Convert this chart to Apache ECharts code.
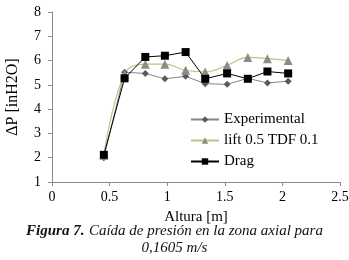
<!DOCTYPE html>
<html>
<head>
<meta charset="utf-8">
<script src="https://cdn.jsdelivr.net/npm/echarts@6/dist/echarts.min.js"></script>
<style>
  html, body { margin: 0; padding: 0; background: #fff; }
  #chart { width: 349px; height: 260px; }
</style>
</head>
<body>
<div id="chart"></div>
<script>
// heights along the axial zone [m]
const altura = [0.45, 0.63, 0.81, 0.98, 1.16, 1.33, 1.52, 1.70, 1.87, 2.05]
// pressure drop [inH2O]
const experimental = [2.0, 5.52, 5.47, 5.25, 5.35, 5.05, 5.02, 5.27, 5.08, 5.15]
const lift = [2.1, 5.45, 5.85, 5.85, 5.6, 5.53, 5.8, 6.13, 6.08, 6.0]
const drag = [2.12, 5.27, 6.15, 6.2, 6.35, 5.25, 5.47, 5.25, 5.55, 5.47]

const serif = 'Liberation Serif'

const pairs = ys => altura.map((x, i) => [x, ys[i]])

const chart = echarts.init(document.getElementById('chart'))
chart.setOption({
  animation: false,
  textStyle: { fontFamily: serif, color: '#000' },
  title: {
    text: '{b|Figura 7.} {i|Caída de presión en la zona axial para}\n{i|0,1605 m/s}',
    left: 'center',
    top: 217,
    textStyle: {
      fontWeight: 'normal',
      rich: {
        b: { fontFamily: serif, fontSize: 15, fontWeight: 'bold', fontStyle: 'italic', color: '#111', lineHeight: 17 },
        i: { fontFamily: serif, fontSize: 15, fontWeight: 'normal', fontStyle: 'italic', color: '#111', lineHeight: 17 }
      }
    }
  },
  grid: { left: 52, right: 9, top: 12, bottom: 78, outerBoundsMode: 'none' },
  legend: {
    orient: 'vertical',
    left: 185,
    top: 107,
    itemWidth: 28,
    itemHeight: 8,
    itemGap: 6,
    textStyle: { fontFamily: serif, fontSize: 15, color: '#000' },
    data: ['Experimental', 'lift 0.5 TDF 0.1', 'Drag']
  },
  xAxis: {
    type: 'value',
    min: 0, max: 2.5, interval: 0.5,
    name: 'Altura [m]',
    nameLocation: 'middle',
    nameGap: 28,
    nameTextStyle: { fontFamily: serif, fontSize: 15, color: '#000' },
    axisLine: { lineStyle: { color: '#8a8a8a' } },
    axisTick: { length: 4, lineStyle: { color: '#8a8a8a' } },
    axisLabel: { fontFamily: serif, fontSize: 14, color: '#000', margin: 8 },
    splitLine: { show: false }
  },
  yAxis: {
    type: 'value',
    min: 1, max: 8, interval: 1,
    name: 'ΔP [inH2O]',
    nameLocation: 'middle',
    nameGap: 31,
    nameTextStyle: { fontFamily: serif, fontSize: 16, color: '#000' },
    axisLine: { show: true, lineStyle: { color: '#8a8a8a' } },
    axisTick: { show: true, length: 4, lineStyle: { color: '#8a8a8a' } },
    axisLabel: { fontFamily: serif, fontSize: 14, color: '#000', margin: 11 },
    splitLine: { show: false }
  },
  series: [
    {
      name: 'Experimental',
      type: 'line',
      data: pairs(experimental),
      symbol: 'diamond',
      symbolSize: 7,
      itemStyle: { color: '#5a5a5a' },
      lineStyle: { color: '#858585', width: 1 }
    },
    {
      name: 'lift 0.5 TDF 0.1',
      type: 'line',
      data: pairs(lift),
      smooth: 0.4,
      symbol: 'triangle',
      symbolSize: 9,
      itemStyle: { color: '#8c8c8c' },
      lineStyle: { color: '#b8c77e', width: 1.2 }
    },
    {
      name: 'Drag',
      type: 'line',
      data: pairs(drag),
      symbol: 'rect',
      symbolSize: 8,
      itemStyle: { color: '#000' },
      lineStyle: { color: '#000', width: 1 }
    }
  ]
})
</script>
</body>
</html>
